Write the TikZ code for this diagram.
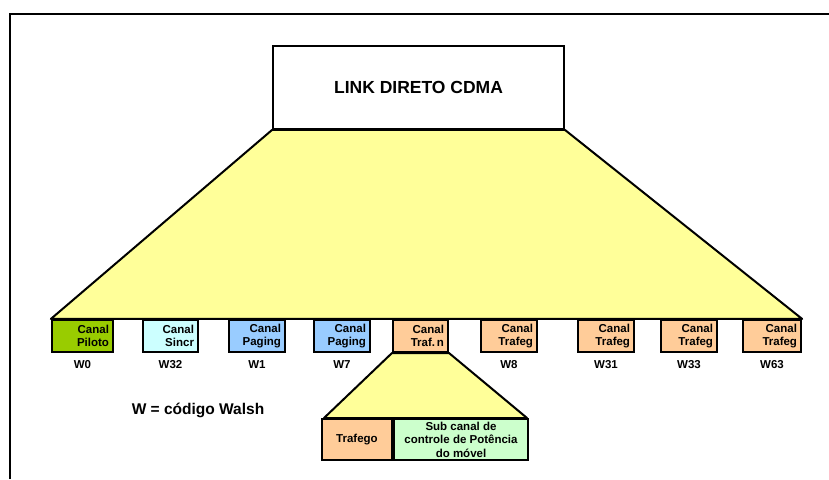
\documentclass[tikz,border=0pt]{standalone}
\usepackage{fontspec}
\setmainfont{Liberation Sans}
\usetikzlibrary{positioning,backgrounds}
\definecolor{coneyellow}{HTML}{FFFF99}
\definecolor{pilotgreen}{HTML}{99CC00}
\definecolor{sincrcyan}{HTML}{CCFFFF}
\definecolor{pagingblue}{HTML}{99CCFF}
\definecolor{trafpeach}{HTML}{FFCC99}
\definecolor{subgreen}{HTML}{CCFFCC}

\begin{document}
\begin{tikzpicture}[x=1pt, y=-1pt]
\tikzstyle{chan}=[rectangle, draw=black, line width=2.2pt, minimum height=32pt, inner xsep=4pt, inner ysep=0pt, align=right, font=\fontsize{11.5}{12.8}\selectfont\bfseries]
\tikzstyle{wlab}=[inner sep=1pt, font=\fontsize{11.5}{12}\selectfont\bfseries]
\tikzstyle{cone}=[fill=coneyellow, draw=black, line width=2pt, line join=round]
\tikzstyle{part}=[rectangle, draw=black, line width=2pt, minimum height=41pt, inner sep=1pt, align=center, font=\fontsize{11.5}{13.5}\selectfont\bfseries]

\useasboundingbox (0,0) rectangle (829,479);

% frame
\draw[line width=2pt] (10,479) -- (10,14) -- (829,14);

%% Link
  \node[rectangle, draw=black, fill=white, line width=1.8pt, minimum width=291pt, minimum height=83pt, font=\fontsize{17.5}{20}\selectfont\bfseries] (link) at (418.5,87.5) {LINK DIRETO CDMA};

%% Channels
  \node[chan, fill=pilotgreen, text width=53pt] (c_w0) at (82.5,336) {Canal\\Piloto};
  \node[chan, fill=sincrcyan, text width=47pt] (c_w32) at (170.5,336) {Canal\\Sincr};
  \node[chan, fill=pagingblue, text width=48pt] (c_w1) at (257,336) {Canal\\Paging};
  \node[chan, fill=pagingblue, text width=48pt] (c_w7) at (342,336) {Canal\\Paging};
  \node[chan, fill=trafpeach, text width=47pt] (c_trafn) at (420.5,336) {Canal\\Traf.\,n};
  \node[chan, fill=trafpeach, text width=48pt] (c_w8) at (509,336) {Canal\\Trafeg};
  \node[chan, fill=trafpeach, text width=48pt] (c_w31) at (606,336) {Canal\\Trafeg};
  \node[chan, fill=trafpeach, text width=48pt] (c_w33) at (689,336) {Canal\\Trafeg};
  \node[chan, fill=trafpeach, text width=50pt] (c_w63) at (772,336) {Canal\\Trafeg};

%% Walsh codes
  \node[wlab] (l_w0) [below=6pt of c_w0] {W0};
  \node[wlab] (l_w32) [below=6pt of c_w32] {W32};
  \node[wlab] (l_w1) [below=6pt of c_w1] {W1};
  \node[wlab] (l_w7) [below=6pt of c_w7] {W7};
  \node[wlab] (l_w8) [below=6pt of c_w8] {W8};
  \node[wlab] (l_w31) [below=6pt of c_w31] {W31};
  \node[wlab] (l_w33) [below=6pt of c_w33] {W33};
  \node[wlab] (l_w63) [below=6pt of c_w63] {W63};

  \node[font=\fontsize{15.5}{17}\selectfont\bfseries] (walsh) at (198,410) {W = código Walsh};

%% Traffic channel split
  \node[part, fill=trafpeach, minimum width=70pt] (trafego) at (357,439.5) {Trafego};
  \node[part, fill=subgreen, minimum width=134pt] (subcanal) [right=0pt of trafego] {Sub canal de\\controle de Potência\\do móvel};

\begin{scope}[on background layer]
  \draw[cone] (link.south west) -- (link.south east) -- (c_w63.north east) -- (c_w0.north west) -- cycle;
  \draw[cone] (c_trafn.south west) -- (c_trafn.south east) -- ([xshift=-2pt]subcanal.north east) -- ([xshift=3pt]trafego.north west) -- cycle;
\end{scope}
\end{tikzpicture}
\end{document}
